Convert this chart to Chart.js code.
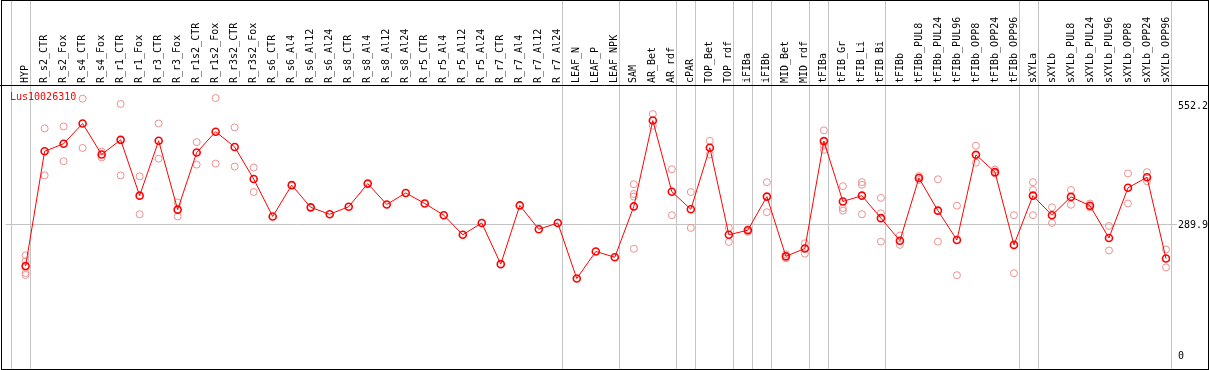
<!DOCTYPE html>
<html>
<head>
<meta charset="utf-8">
<script src="https://cdn.jsdelivr.net/npm/chart.js@4/dist/chart.umd.min.js"></script>
<style>
  body { margin: 0; background: #fff; }
  #wrap { width: 1209px; height: 370px; }
</style>
</head>
<body>
<div id="wrap"><canvas id="geneChart"></canvas></div>
<script>
const geneName = "Lus10026310";

const categories = [
  "HYP", "R_s2_CTR", "R_s2_Fox", "R_s4_CTR", "R_s4_Fox", "R_r1_CTR", "R_r1_Fox", "R_r3_CTR",
  "R_r3_Fox", "R_r1s2_CTR", "R_r1s2_Fox", "R_r3s2_CTR", "R_r3s2_Fox", "R_s6_CTR", "R_s6_Al4",
  "R_s6_Al12", "R_s6_Al24", "R_s8_CTR", "R_s8_Al4", "R_s8_Al12", "R_s8_Al24", "R_r5_CTR",
  "R_r5_Al4", "R_r5_Al12", "R_r5_Al24", "R_r7_CTR", "R_r7_Al4", "R_r7_Al12", "R_r7_Al24",
  "LEAF_N", "LEAF_P", "LEAF_NPK", "SAM", "AR_Bet", "AR_rdf", "cPAR", "TOP_Bet", "TOP_rdf",
  "iFIBa", "iFIBb", "MID_Bet", "MID_rdf", "tFIBa", "tFIB_Gr", "tFIB_Li", "tFIB_Bi", "tFIBb",
  "tFIBb_PUL8", "tFIBb_PUL24", "tFIBb_PUL96", "tFIBb_OPP8", "tFIBb_OPP24", "tFIBb_OPP96",
  "sXYLa", "sXYLb", "sXYLb_PUL8", "sXYLb_PUL24", "sXYLb_PUL96", "sXYLb_OPP8", "sXYLb_OPP24",
  "sXYLb_OPP96"
];

// mean expression per sample
const means = [
  199.0, 452.7, 469.4, 514.1, 445.6, 478.0, 354.7, 475.9,
  323.8, 449.9, 496.0, 462.2, 391.5, 308.7, 377.9,
  328.8, 313.6, 330.3, 381.3, 335.3, 360.6, 337.4,
  311.5, 268.2, 294.2, 203.3, 333.1, 280.5, 294.2,
  171.5, 231.4, 218.5, 330.9, 520.6, 363.4, 324.5, 460.7, 268.2,
  278.4, 352.6, 220.6, 237.9, 475.2, 341.8, 354.7, 305.0, 255.2,
  393.7, 321.6, 256.7, 444.9, 406.6, 245.9,
  354.7, 311.5, 351.9, 332.5, 261.1, 372.0, 395.2,
  215.7
];

// replicate values (null = no replicate)
const repA = [
  222.8, 503.3, 507.6, 568.9, 452.1, 557.4, 397.3, 514.1,
  339.6, 473.0, 570.4, 505.5, 416.8, null, null,
  null, null, null, null, null, null, null,
  null, null, null, null, null, null, null,
  null, null, null, 380.0, 534.9, 413.1, 362.7, 475.9, 283.4,
  280.5, 384.4, 225.0, 249.4, 499.0, 375.7, 384.6, 349.8, 266.7,
  398.0, 390.9, 332.5, 465.0, 412.5, 311.5,
  384.4, 328.8, 367.1, 337.4, 287.7, 403.8, 406.6,
  235.8
];
const repB = [
  209.8, 399.5, 430.8, 460.1, 439.1, 399.5, 313.6, 436.3,
  308.7, 423.3, 425.5, 419.0, 362.7, null, null,
  null, null, null, null, null, null, null,
  null, null, null, null, null, null, null,
  null, null, null, 358.4, 508.9, 311.5, 283.4, 445.6, 252.4,
  274.7, 318.0, 216.3, 226.5, 465.7, 327.3, 378.8, 315.8, 245.9,
  389.3, 253.1, 178.9, 427.6, 403.8, 183.2,
  367.1, 294.2, 334.6, 328.8, 233.6, 337.4, 386.5,
  196.2
];
const repC = [
  183.9, null, null, null, null, null, null, null,
  null, null, null, null, null, null, null,
  null, null, null, null, null, null, null,
  null, null, null, null, null, null, null,
  null, null, null, 352.6, null, null, null, null, null,
  null, null, null, null, 455.7, 321.6, 313.6, 253.1, null,
  null, null, null, null, null, null,
  311.5, null, null, null, null, null, null,
  null
];
const repD = [
  179.5, null, null, null, null, null, null, null,
  null, null, null, null, null, null, null,
  null, null, null, null, null, null, null,
  null, null, null, null, null, null, null,
  null, null, null, 237.3, null, null, null, null, null,
  null, null, null, null, null, null, null, null, null,
  null, null, null, null, null, null,
  null, null, null, null, null, null, null,
  null
];

// sample groups end after these category indices (-1 = start)
const groupEnds = [-1, 0, 28, 31, 34, 35, 37, 38, 39, 41, 42, 45, 52, 53, 60];

const yTicks = [0, 289.9, 552.2];

const toPoints = (arr) => arr.map((v, i) => ({ x: i, y: v }));

const repColor = "#ec9090";
const gridColor = "#c4c4c4";
const monoFont = { family: "'DejaVu Sans Mono', monospace", size: 10 };

const framePlugin = {
  id: "frame",
  beforeDatasetsDraw(chart) {
    const { ctx, scales } = chart;
    const h = chart.height;
    ctx.save();
    ctx.strokeStyle = gridColor;
    ctx.lineWidth = 1;
    groupEnds.forEach((g) => {
      const x = Math.round(scales.x.getPixelForValue(g + 0.24)) + 0.5;
      ctx.beginPath();
      ctx.moveTo(x, 0);
      ctx.lineTo(x, h);
      ctx.stroke();
    });
    ctx.restore();
  },
  afterDraw(chart) {
    const { ctx, chartArea } = chart;
    const w = chart.width;
    const h = chart.height;
    ctx.save();
    ctx.strokeStyle = "#000";
    ctx.lineWidth = 1;
    ctx.strokeRect(1.5, 0.5, w - 2, h - 1);
    ctx.beginPath();
    ctx.moveTo(0, chartArea.top + 0.5);
    ctx.lineTo(w, chartArea.top + 0.5);
    ctx.stroke();
    ctx.fillStyle = "#ff0000";
    ctx.font = "10px 'DejaVu Sans Mono', monospace";
    ctx.textBaseline = "middle";
    ctx.fillText(geneName, 10, chartArea.top + 12);
    ctx.restore();
  }
};

const repDataset = (data) => ({
  data: toPoints(data),
  showLine: false,
  borderColor: repColor,
  backgroundColor: "transparent",
  pointRadius: 3.5,
  pointBorderWidth: 1,
  pointBorderColor: repColor,
  pointBackgroundColor: "transparent",
  order: 2
});

new Chart(document.getElementById("geneChart"), {
  type: "line",
  data: {
    datasets: [
      {
        data: toPoints(means),
        borderColor: "#ff0000",
        borderWidth: 1,
        backgroundColor: "transparent",
        pointRadius: 3.5,
        pointBorderWidth: 1.6,
        pointBorderColor: "#ff0000",
        pointBackgroundColor: "transparent",
        tension: 0,
        order: 1
      },
      repDataset(repA),
      repDataset(repB),
      repDataset(repC),
      repDataset(repD)
    ]
  },
  options: {
    responsive: true,
    maintainAspectRatio: false,
    animation: false,
    events: [],
    layout: { padding: { left: 1, right: 0, top: 0, bottom: 1 } },
    plugins: { legend: { display: false }, tooltip: { enabled: false } },
    scales: {
      x: {
        type: "linear",
        position: "top",
        min: -1.0526,
        max: 60.2105,
        afterBuildTicks: (axis) => {
          axis.ticks = categories.map((c, i) => ({ value: i }));
        },
        afterFit: (axis) => {
          axis.height = 85;
        },
        grid: { display: false, drawTicks: false },
        border: { display: false },
        ticks: {
          autoSkip: false,
          minRotation: 90,
          maxRotation: 90,
          padding: 2,
          labelOffset: 12,
          color: "#000",
          font: monoFont,
          callback: (value) => categories[value]
        }
      },
      y: {
        type: "linear",
        position: "right",
        min: -15.1,
        max: 599.2,
        afterBuildTicks: (axis) => {
          axis.ticks = yTicks.map((v) => ({ value: v }));
        },
        afterFit: (axis) => {
          axis.width = 39;
        },
        border: { display: false },
        grid: {
          color: (ctx) => (ctx.tick && ctx.tick.value === 289.9 ? gridColor : "transparent"),
          drawTicks: true,
          tickLength: 7
        },
        ticks: {
          padding: 1,
          color: "#000",
          font: monoFont,
          callback: (value) => String(value)
        }
      }
    }
  },
  plugins: [framePlugin]
});
</script>
</body>
</html>
